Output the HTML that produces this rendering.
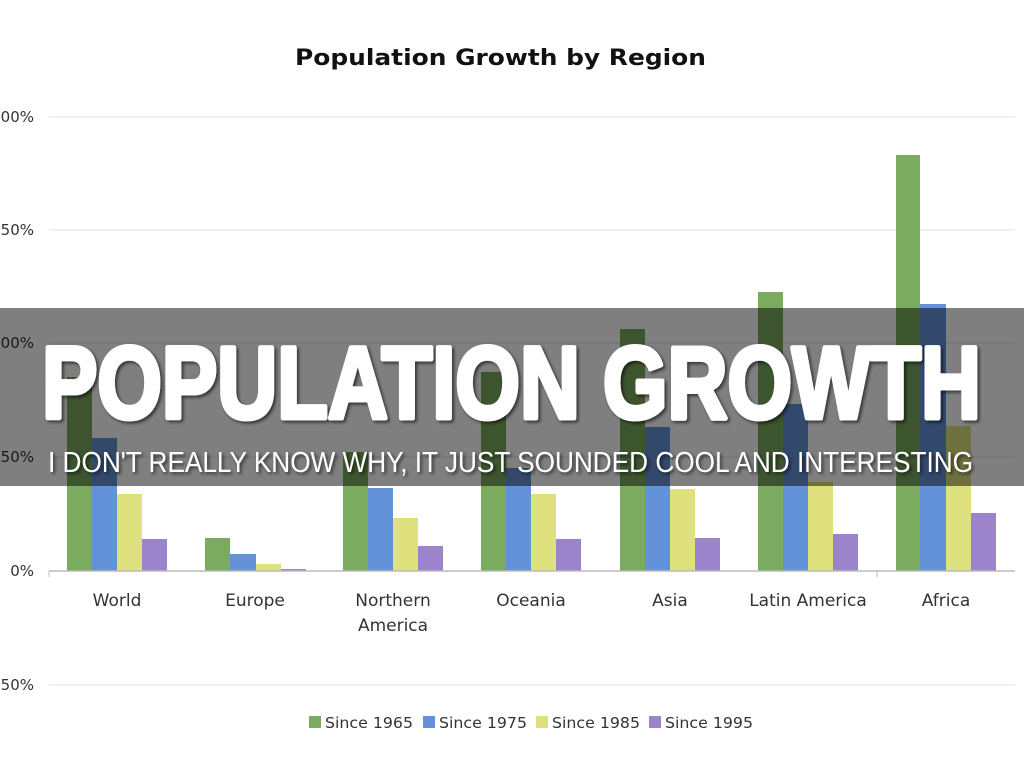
<!DOCTYPE html>
<html><head><meta charset="utf-8"><style>html,body{margin:0;padding:0;background:#fff}svg{display:block}</style></head>
<body>
<svg width="1024" height="768" viewBox="0 0 1024 768" xmlns="http://www.w3.org/2000/svg">
<rect width="1024" height="768" fill="#fff"/>
<text x="295" y="65" font-family="DejaVu Sans, sans-serif" font-weight="bold" font-size="22" textLength="411" lengthAdjust="spacingAndGlyphs" fill="#111">Population Growth by Region</text>
<g stroke="#ececec" stroke-width="1.5">
<line x1="49" y1="117" x2="1015" y2="117"/><line x1="49" y1="230" x2="1015" y2="230"/>
<line x1="49" y1="343" x2="1015" y2="343"/><line x1="49" y1="457" x2="1015" y2="457"/>
<line x1="49" y1="685" x2="1015" y2="685"/>
</g>
<g font-family="DejaVu Sans, sans-serif" font-size="15" fill="#333" text-anchor="end">
<text x="34" y="122">200%</text><text x="34" y="235">150%</text><text x="34" y="348">100%</text>
<text x="34" y="462">50%</text><text x="34" y="576">0%</text><text x="34" y="690">-50%</text>
</g>
<g>
<rect x="67" y="377" width="25" height="194" fill="#7aab5e"/><rect x="92" y="438" width="25" height="133" fill="#6492d8"/><rect x="117" y="494" width="25" height="77" fill="#dfe07e"/><rect x="142" y="539" width="25" height="32" fill="#9b84cc"/>
<rect x="205" y="538" width="25" height="33" fill="#7aab5e"/><rect x="230" y="554" width="26" height="17" fill="#6492d8"/><rect x="256" y="564" width="25" height="7" fill="#dfe07e"/><rect x="281" y="569" width="25" height="2" fill="#9b84cc"/>
<rect x="343" y="452" width="25" height="119" fill="#7aab5e"/><rect x="368" y="488" width="25" height="83" fill="#6492d8"/><rect x="393" y="518" width="25" height="53" fill="#dfe07e"/><rect x="418" y="546" width="25" height="25" fill="#9b84cc"/>
<rect x="481" y="372" width="25" height="199" fill="#7aab5e"/><rect x="506" y="468" width="25" height="103" fill="#6492d8"/><rect x="531" y="494" width="25" height="77" fill="#dfe07e"/><rect x="556" y="539" width="25" height="32" fill="#9b84cc"/>
<rect x="620" y="329" width="25" height="242" fill="#7aab5e"/><rect x="645" y="427" width="25" height="144" fill="#6492d8"/><rect x="670" y="489" width="25" height="82" fill="#dfe07e"/><rect x="695" y="538" width="25" height="33" fill="#9b84cc"/>
<rect x="758" y="292" width="25" height="279" fill="#7aab5e"/><rect x="783" y="404" width="25" height="167" fill="#6492d8"/><rect x="808" y="482" width="25" height="89" fill="#dfe07e"/><rect x="833" y="534" width="25" height="37" fill="#9b84cc"/>
<rect x="896" y="155" width="24" height="416" fill="#7aab5e"/><rect x="920" y="304" width="26" height="267" fill="#6492d8"/><rect x="946" y="426" width="25" height="145" fill="#dfe07e"/><rect x="971" y="513" width="25" height="58" fill="#9b84cc"/>
</g>
<line x1="49" y1="571" x2="1015" y2="571" stroke="#bbb" stroke-width="1.5"/>
<g stroke="#bbb"><line x1="49" y1="571" x2="49" y2="577"/><line x1="877" y1="571" x2="877" y2="577"/></g>
<g font-family="DejaVu Sans, sans-serif" font-size="17" fill="#333" text-anchor="middle">
<text x="117" y="606">World</text><text x="255" y="606">Europe</text>
<text x="393" y="606">Northern</text><text x="393" y="631">America</text>
<text x="531" y="606">Oceania</text><text x="670" y="606">Asia</text>
<text x="808" y="606">Latin America</text><text x="946" y="606">Africa</text>
</g>
<g font-family="DejaVu Sans, sans-serif" font-size="15" fill="#333">
<rect x="309" y="716" width="12" height="12" fill="#7aab5e"/><text x="325" y="728" textLength="88" lengthAdjust="spacingAndGlyphs">Since 1965</text>
<rect x="423" y="716" width="12" height="12" fill="#6492d8"/><text x="439" y="728" textLength="88" lengthAdjust="spacingAndGlyphs">Since 1975</text>
<rect x="536" y="716" width="12" height="12" fill="#dfe07e"/><text x="552" y="728" textLength="88" lengthAdjust="spacingAndGlyphs">Since 1985</text>
<rect x="649" y="716" width="12" height="12" fill="#9b84cc"/><text x="665" y="728" textLength="88" lengthAdjust="spacingAndGlyphs">Since 1995</text>
</g>
<rect x="0" y="308" width="1024" height="178" fill="rgba(0,0,0,0.5)"/>
<defs><filter id="sh" x="-5%" y="-20%" width="110%" height="140%"><feDropShadow dx="2" dy="2" stdDeviation="1.5" flood-color="#000" flood-opacity="0.6"/></filter></defs>
<text x="42" y="418" font-family="Liberation Sans Narrow, Liberation Sans, sans-serif" font-weight="bold" font-size="102" textLength="939" lengthAdjust="spacingAndGlyphs" fill="#fff" stroke="#fff" stroke-width="5" stroke-linejoin="round" filter="url(#sh)">POPULATION GROWTH</text>
<text x="48" y="472" font-family="Liberation Sans, sans-serif" font-size="29" textLength="925" lengthAdjust="spacingAndGlyphs" fill="#fff" filter="url(#sh)">I DON'T REALLY KNOW WHY, IT JUST SOUNDED COOL AND INTERESTING</text>
</svg>
</body></html>
